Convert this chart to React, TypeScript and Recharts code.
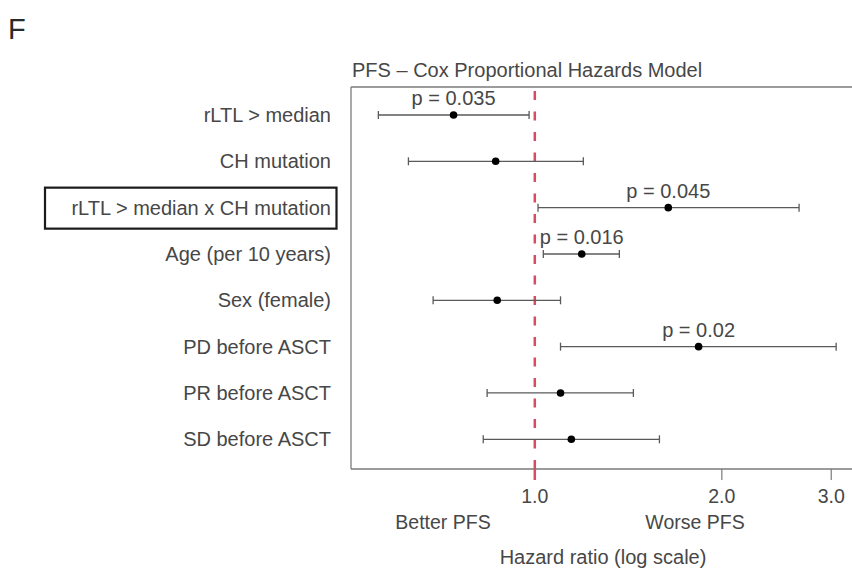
import React from "react";
import {
  ComposedChart,
  Scatter,
  XAxis,
  YAxis,
  ErrorBar,
  ReferenceLine,
  Customized,
} from "recharts";

// Cox model covariates, top to bottom
const covariates = [
  "rLTL > median",
  "CH mutation",
  "rLTL > median x CH mutation",
  "Age (per 10 years)",
  "Sex (female)",
  "PD before ASCT",
  "PR before ASCT",
  "SD before ASCT",
];
// hazard ratios with 95% confidence limits
const hazardRatio = [0.74, 0.865, 1.64, 1.19, 0.87, 1.835, 1.1, 1.145];
const ciLower = [0.56, 0.626, 1.012, 1.032, 0.686, 1.1, 0.838, 0.826];
const ciUpper = [0.979, 1.197, 2.663, 1.368, 1.1, 3.055, 1.441, 1.587];
// p-values shown only for significant terms
const pValues = ["0.035", "", "0.045", "0.016", "", "0.02", "", ""];
const highlightedRow = 3;

const xTicks = [1, 2, 3];
const xDomain = [0.506, 3.24];
const yDomain = [0.396, 8.641];

const FONT = "'Liberation Sans', Arial, Helvetica, sans-serif";
const TEXT = "#474747";
const FRAME = "#7a7a7a";
const NULL_LINE = "#d94b60";

const rows = covariates.map((name, i) => ({
  row: i + 1,
  name,
  hr: hazardRatio[i],
  ci: [hazardRatio[i] - ciLower[i], ciUpper[i] - hazardRatio[i]],
  p: pValues[i],
}));

const CovariateTick = (props: any) => {
  const { y, payload } = props;
  const idx = Math.round(payload.value) - 1;
  const label = covariates[idx];
  return (
    <g>
      {payload.value === highlightedRow && (
        <rect
          x={45}
          y={y - 20}
          width={291.5}
          height={41}
          fill="none"
          stroke="#1a1a1a"
          strokeWidth={2.2}
        />
      )}
      <text
        x={331}
        y={y + 7}
        textAnchor="end"
        fontFamily={FONT}
        fontSize={20}
        fill={TEXT}
      >
        {label}
      </text>
    </g>
  );
};

const HazardTick = (props: any) => {
  const { x, y, payload } = props;
  const isNull = payload.value === 1;
  return (
    <g>
      <line
        x1={x}
        x2={x}
        y1={y}
        y2={y + 11}
        stroke={isNull ? NULL_LINE : FRAME}
        strokeWidth={isNull ? 2.5 : 1.2}
      />
      <text
        x={x}
        y={y + 34}
        textAnchor="middle"
        fontFamily={FONT}
        fontSize={19.5}
        fill={TEXT}
      >
        {Number(payload.value).toFixed(1)}
      </text>
    </g>
  );
};

const EstimateDot = (props: any) => {
  const { cx, cy, payload } = props;
  return (
    <g>
      {payload.p && (
        <text
          x={cx}
          y={cy - 9.5}
          textAnchor="middle"
          fontFamily={FONT}
          fontSize={20}
          fill={TEXT}
        >
          {`p = ${payload.p}`}
        </text>
      )}
      <circle cx={cx} cy={cy} r={3.8} fill="#000" />
    </g>
  );
};

const Annotations = () => (
  <g fontFamily={FONT} fill={TEXT}>
    <text x={8} y={39} fontSize={29} fill="#2a2a2a">
      F
    </text>
    <text x={352} y={77} fontSize={20}>
      PFS – Cox Proportional Hazards Model
    </text>
    <text x={443} y={529} fontSize={19.5} textAnchor="middle">
      Better PFS
    </text>
    <text x={695} y={529} fontSize={19.5} textAnchor="middle">
      Worse PFS
    </text>
    <text x={603} y={564} fontSize={20} textAnchor="middle">
      Hazard ratio (log scale)
    </text>
  </g>
);

export default function App() {
  return (
    <div
      style={{
        position: "absolute",
        left: 0,
        top: 0,
        width: 852,
        height: 579,
        overflow: "hidden",
        background: "#fff",
      }}
    >
      <ComposedChart
        width={852}
        height={579}
        data={rows}
        margin={{ top: 87, right: 0, bottom: 80, left: 0 }}
      >
        <XAxis
          type="number"
          dataKey="hr"
          scale="log"
          domain={xDomain}
          allowDataOverflow
          ticks={xTicks}
          height={30}
          tickSize={0}
          tickMargin={0}
          axisLine={{ stroke: FRAME, strokeWidth: 1.3 }}
          tickLine={false}
          tick={<HazardTick />}
        />
        <YAxis
          type="number"
          dataKey="row"
          domain={yDomain}
          reversed
          allowDataOverflow
          ticks={covariates.map((_, i) => i + 1)}
          width={351}
          axisLine={{ stroke: FRAME, strokeWidth: 1.3 }}
          tickLine={false}
          tick={<CovariateTick />}
        />
        <ReferenceLine y={yDomain[0]} stroke={FRAME} strokeWidth={1.3} />
        <ReferenceLine
          x={1}
          stroke={NULL_LINE}
          strokeWidth={2.5}
          strokeDasharray="9 11.5"
        />
        <Scatter
          data={rows}
          dataKey="hr"
          isAnimationActive={false}
          shape={<EstimateDot />}
        >
          <ErrorBar
            dataKey="ci"
            direction="x"
            width={4}
            stroke="#5a5a5a"
            strokeWidth={1.3}
            isAnimationActive={false}
          />
        </Scatter>
        <Customized component={Annotations} />
      </ComposedChart>
    </div>
  );
}
